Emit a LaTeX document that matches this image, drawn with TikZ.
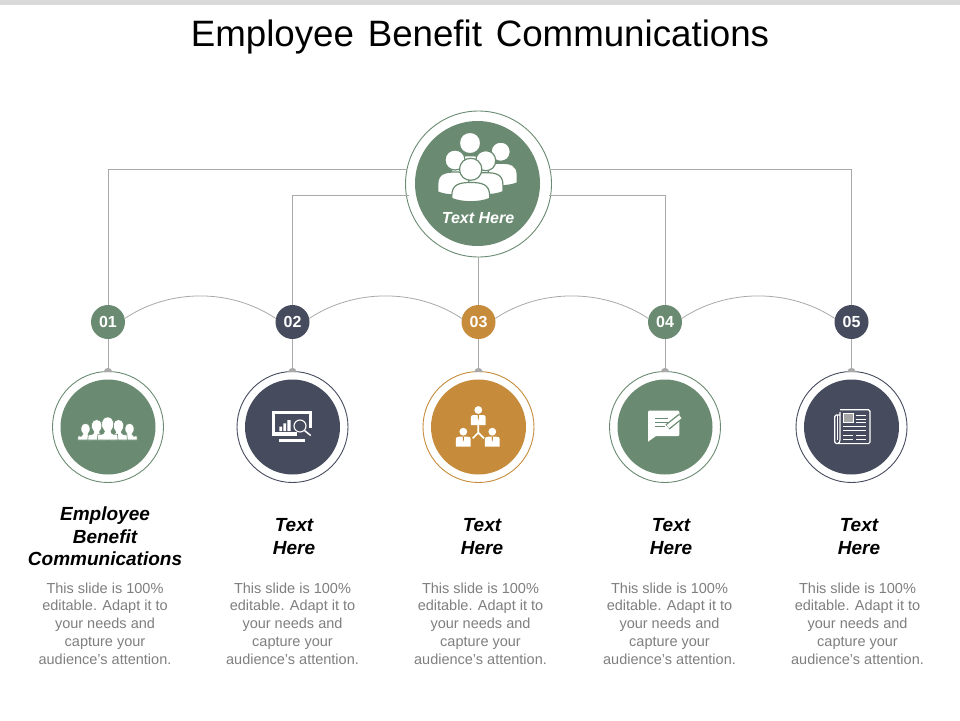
\documentclass[tikz,border=0pt]{standalone}
\usepackage{fontspec}
\setmainfont{Liberation Sans}
\newfontfamily\titlefont[WordSpace=1.35]{Liberation Sans}
\definecolor{cgreen}{HTML}{6A8B71}
\definecolor{cnavy}{HTML}{464B5E}
\definecolor{corange}{HTML}{C68C3B}
\definecolor{cline}{HTML}{A9A9A9}
\definecolor{cbody}{HTML}{7F7F7F}
\definecolor{cbar}{HTML}{D9D9D9}
\tikzset{
  conn/.style={draw=cline,line width=0.8pt},
  badge/.style={circle,fill=#1,minimum size=34pt,inner sep=0pt,text=white,font=\fontsize{16}{18}\selectfont\bfseries},
  disc/.style={circle,fill=#1,minimum size=95pt,inner sep=0pt},
  ring/.style={circle,draw=#1,fill=white,line width=0.9pt,minimum size=111pt,inner sep=0pt},
  head/.style={align=center,text=black,font=\fontsize{19}{22.5}\selectfont\bfseries\itshape},
  bodytext/.style={align=center,text=cbody,font=\fontsize{14.5}{17.8}\selectfont},
  person/.style={fill=white,draw=cgreen,line width=1.2pt}
}
% hub person: head centre x,y ; head radius ; body bottom factor
\newcommand{\bigperson}[4]{%
  \path[person] (#1-1.72*#3,#2+#4*#3) -- (#1-1.72*#3,#2+2.4*#3) .. controls (#1-1.72*#3,#2+1.35*#3) and (#1-1.0*#3,#2+1.2*#3) .. (#1,#2+1.2*#3)
     .. controls (#1+1.0*#3,#2+1.2*#3) and (#1+1.72*#3,#2+1.35*#3) .. (#1+1.72*#3,#2+2.4*#3) -- (#1+1.72*#3,#2+#4*#3)
     .. controls (#1+0.8*#3,#2+#4*#3+0.4*#3) and (#1-0.8*#3,#2+#4*#3+0.4*#3) .. cycle;
  \path[person] (#1-#3,#2) .. controls (#1-#3,#2-1.33*#3) and (#1+#3,#2-1.33*#3) .. (#1+#3,#2)
     .. controls (#1+#3,#2+1.33*#3) and (#1-#3,#2+1.33*#3) .. cycle;
}
% silhouette for the crowd: head centre x,y, scale, base y
\newcommand{\crowd}[4]{%
  \path[fill=white,draw=cgreen,line width=0.6pt] (#1-1.6*#3,#4) -- (#1-1.5*#3,#4-0.9*#3)
     .. controls (#1-1.2*#3,#2+1.6*#3) and (#1-0.55*#3,#2+1.6*#3) .. (#1-0.5*#3,#2+1.05*#3)
     .. controls (#1-1.25*#3,#2+0.3*#3) and (#1-1.05*#3,#2-1.15*#3) .. (#1,#2-1.15*#3)
     .. controls (#1+1.05*#3,#2-1.15*#3) and (#1+1.25*#3,#2+0.3*#3) .. (#1+0.5*#3,#2+1.05*#3)
     .. controls (#1+0.55*#3,#2+1.6*#3) and (#1+1.2*#3,#2+1.6*#3) .. (#1+1.5*#3,#4-0.9*#3)
     -- (#1+1.6*#3,#4) -- cycle;
}
% org-chart person
\newcommand{\orgperson}[3]{%
  \fill[white] (#1,#2) circle[radius=3.9];
  \fill[white] (#1-7.4,#3+10) -- (#1-7.4,#3+2) .. controls (#1-7.4,#3+0.5) and (#1-6,#3) .. (#1-4,#3)
     -- (#1+4,#3) .. controls (#1+6,#3) and (#1+7.4,#3+0.5) .. (#1+7.4,#3+2)
     -- (#1+7.4,#3+10) -- cycle;
  \fill[corange] (#1-0.6,#3) -- (#1+0.6,#3) -- (#1+0.4,#3+4) -- (#1,#3+5) -- (#1-0.4,#3+4) -- cycle;
}
\begin{document}
\begin{tikzpicture}[x=1pt,y=-1pt]
\useasboundingbox (0,0) rectangle (960,720);
\fill[white] (0,0) rectangle (960,720);
\fill[cbar] (0,0) rectangle (960,5);
\node[font=\fontsize{36.7}{40}\titlefont] (title) at (480,37) {Employee Benefit Communications};

% hub
\node[circle,draw=cgreen,fill=white,line width=0.9pt,minimum size=146pt,inner sep=0pt] (hubring) at (478.5,184) {};
\node[disc=cgreen,minimum size=125pt] (hub) at (477.5,183.5) {};

% badges and lower circles
\foreach \n/\x/\c/\lab in {1/108/cgreen/01,2/292.5/cnavy/02,3/478.5/corange/03,4/665/cgreen/04,5/851.5/cnavy/05}{
  \node[badge=\c] (b\n) at (\x,322) {\lab};
  \node[ring=\c] (r\n) at (\x,427) {};
  \node[disc=\c] (d\n) at (\x,427) {};
  \draw[conn] (b\n.south) -- (r\n.north);
  \fill[cline] (\x-4.5,372) .. controls (\x-3,366.5) and (\x+3,366.5) .. (\x+4.5,372) -- cycle;
}

% connectors
\coordinate (h1) at (406.5,169);
\coordinate (h2) at (408.5,195);
\coordinate (h4) at (548.5,195);
\coordinate (h5) at (550.5,169);
\draw[conn] (b1.north) |- (h1);
\draw[conn] (b2.north) |- (h2);
\draw[conn] (b4.north) |- (h4);
\draw[conn] (b5.north) |- (h5);
\draw[conn] (hubring.south) -- (b3.north);
\draw[conn] (b1.12) .. controls +(45,-30) and +(-45,-30) .. (b2.168);
\draw[conn] (b2.12) .. controls +(45,-30) and +(-45,-30) .. (b3.168);
\draw[conn] (b3.12) .. controls +(45,-30) and +(-45,-30) .. (b4.168);
\draw[conn] (b4.12) .. controls +(45,-30) and +(-45,-30) .. (b5.168);

% hub icon
\bigperson{500.7}{151.7}{9.6}{3.25}
\bigperson{470}{143}{10.6}{3}
\bigperson{455}{160}{10}{3.2}
\bigperson{485.7}{160.7}{10}{3.1}
\bigperson{470.7}{169.3}{11}{2.65}
\node[text=white,font=\fontsize{16}{18}\selectfont\bfseries\itshape] (hubtext) at (478,218) {Text Here};

% icon 1: crowd
\crowd{85.5}{429}{4.9}{440}
\crowd{129.5}{429}{4.9}{440}
\crowd{96.7}{426}{5.6}{440}
\crowd{118.5}{426}{5.6}{440}
\crowd{107.7}{424.5}{6.5}{440}

% icon 2: monitor
\fill[white] (271.7,411) rectangle (312.3,435.7);
\fill[cnavy] (275.3,414) rectangle (309.3,432.4);
\fill[white] (279.3,426.7) rectangle (282,431) (283.3,423.3) rectangle (286,431) (287.3,420) rectangle (290.7,431);
\fill[white] (279,439) rectangle (305,442);
\fill[cnavy] (297,431) rectangle (313,437) (309,428) rectangle (313,437);
\draw[white,line width=1.1pt] (300,426) circle[radius=6];
\draw[white,line width=1.5pt] (304.5,430.5) -- (310.7,435.5);

% icon 3: org chart
\orgperson{478.3}{410}{415}
\orgperson{463.3}{431.7}{436.7}
\orgperson{492.3}{431.7}{436.7}
\draw[white,line width=1.7pt] (478.3,425) -- (478.3,432.7) -- (472.7,438.3) (478.3,432.7) -- (484,438.3);

% icon 4: speech bubble
\fill[white] (649,410.7) -- (678.3,410.7) .. controls (679,410.7) and (679.3,411) .. (679.3,412)
   -- (679.3,435) .. controls (679.3,435.7) and (679,436) .. (678.3,436) -- (656,436) -- (648,441.7) -- (648,412)
   .. controls (648,411) and (648.3,410.7) .. (649,410.7) -- cycle;
\draw[cgreen,line width=1.3pt] (655,418.3) -- (668,418.3) (655,422.5) -- (668,422.5) (655,426.7) -- (665,426.7);
\draw[cgreen,line width=6.4pt] (667.5,427) -- (680.5,416.5);
\draw[white,line width=3.8pt] (668,426.5) -- (680.3,416.7);
\fill[white] (665.5,429.5) -- (666.5,425.8) -- (669,428.2) -- cycle;

% icon 5: newspaper
\draw[white,line width=1.2pt,rounded corners=1.5pt] (840,409.8) -- (870,409.8) -- (870,443.6) -- (834.8,443.6) -- (834.8,415) -- (840,415);
\draw[white,line width=1.2pt] (840,412) -- (840,440) .. controls (840,442) and (839,443) .. (837.5,443.6);
\draw[white,line width=1pt] (837.4,415) -- (837.4,440);
\draw[white,line width=0.9pt,fill=gray!70] (843.5,413.5) rectangle (853.3,422.3);
\draw[white,line width=1pt] (855.7,415.7) -- (866,415.7) (855.7,419.3) -- (866,419.3) (855.7,422.3) -- (866,422.3)
   (843.3,426.7) -- (866,426.7) (843.3,430.7) -- (866,430.7) (843.3,435) -- (853,435) (856,435) -- (866,435) (843.3,439) -- (853,439) (856,439) -- (866,439);

% headings
\node[head] (t1) at (105,536.5) {Employee\\Benefit\\Communications};
\node[head] (t2) at (294,536.5) {Text\\Here};
\node[head] (t3) at (482,536.5) {Text\\Here};
\node[head] (t4) at (671,536.5) {Text\\Here};
\node[head] (t5) at (859,536.5) {Text\\Here};

% body
\foreach \n/\x in {1/105,2/292.5,3/480.5,4/669.5,5/857.5}{
  \node[bodytext] (p\n) at (\x,623.5) {This slide is 100\%\\editable. Adapt it to\\your needs and\\capture your\\audience's attention.};
}
\end{tikzpicture}
\end{document}
